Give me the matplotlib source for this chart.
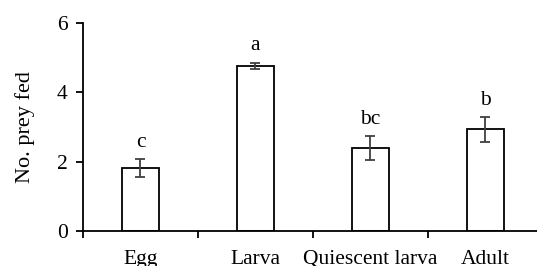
import matplotlib.pyplot as plt
import numpy as np

plt.rcParams['font.family'] = ['Liberation Serif', 'DejaVu Serif']

stages = ['Egg', 'Larva', 'Quiescent larva', 'Adult']
means = [1.82, 4.77, 2.40, 2.93]
errs = [0.25, 0.09, 0.35, 0.36]
letters = ['c', 'a', 'bc', 'b']

fig = plt.figure(figsize=(5.37, 2.66), dpi=100)
ax = fig.add_axes([0.1546, 0.1316, 0.8454, 0.7819])

x = np.arange(len(stages))
ax.bar(x, means, width=0.32, color='white', edgecolor='black', linewidth=1.3)
ax.errorbar(x, means, yerr=errs, fmt='none', ecolor='#404040', elinewidth=1.3,
            capsize=3.5, capthick=1.3)
for xi, m, e, l in zip(x, means, errs, letters):
    ax.text(xi, m + e + 0.35, l, ha='center', va='baseline', fontsize=15.5)

ax.set_xlim(-0.5, 3.45)
ax.set_ylim(0, 6)
ax.set_yticks([0, 2, 4, 6])
ax.set_xticks(x)
ax.set_xticklabels(stages)
ax.set_xticks(np.arange(-0.5, 3.5, 1), minor=True)
ax.tick_params(axis='x', which='major', length=0, labelsize=15.5, pad=14)
ax.tick_params(axis='x', which='minor', length=5, width=1.3, direction='out')
ax.tick_params(axis='y', length=5, width=1.3, labelsize=15.5, direction='out', pad=6)
ax.spines['top'].set_visible(False)
ax.spines['right'].set_visible(False)
ax.spines['left'].set_linewidth(1.3)
ax.spines['bottom'].set_linewidth(1.3)
ax.set_ylabel('No. prey fed', fontsize=16, labelpad=16)

plt.savefig('out.png', dpi=100)
